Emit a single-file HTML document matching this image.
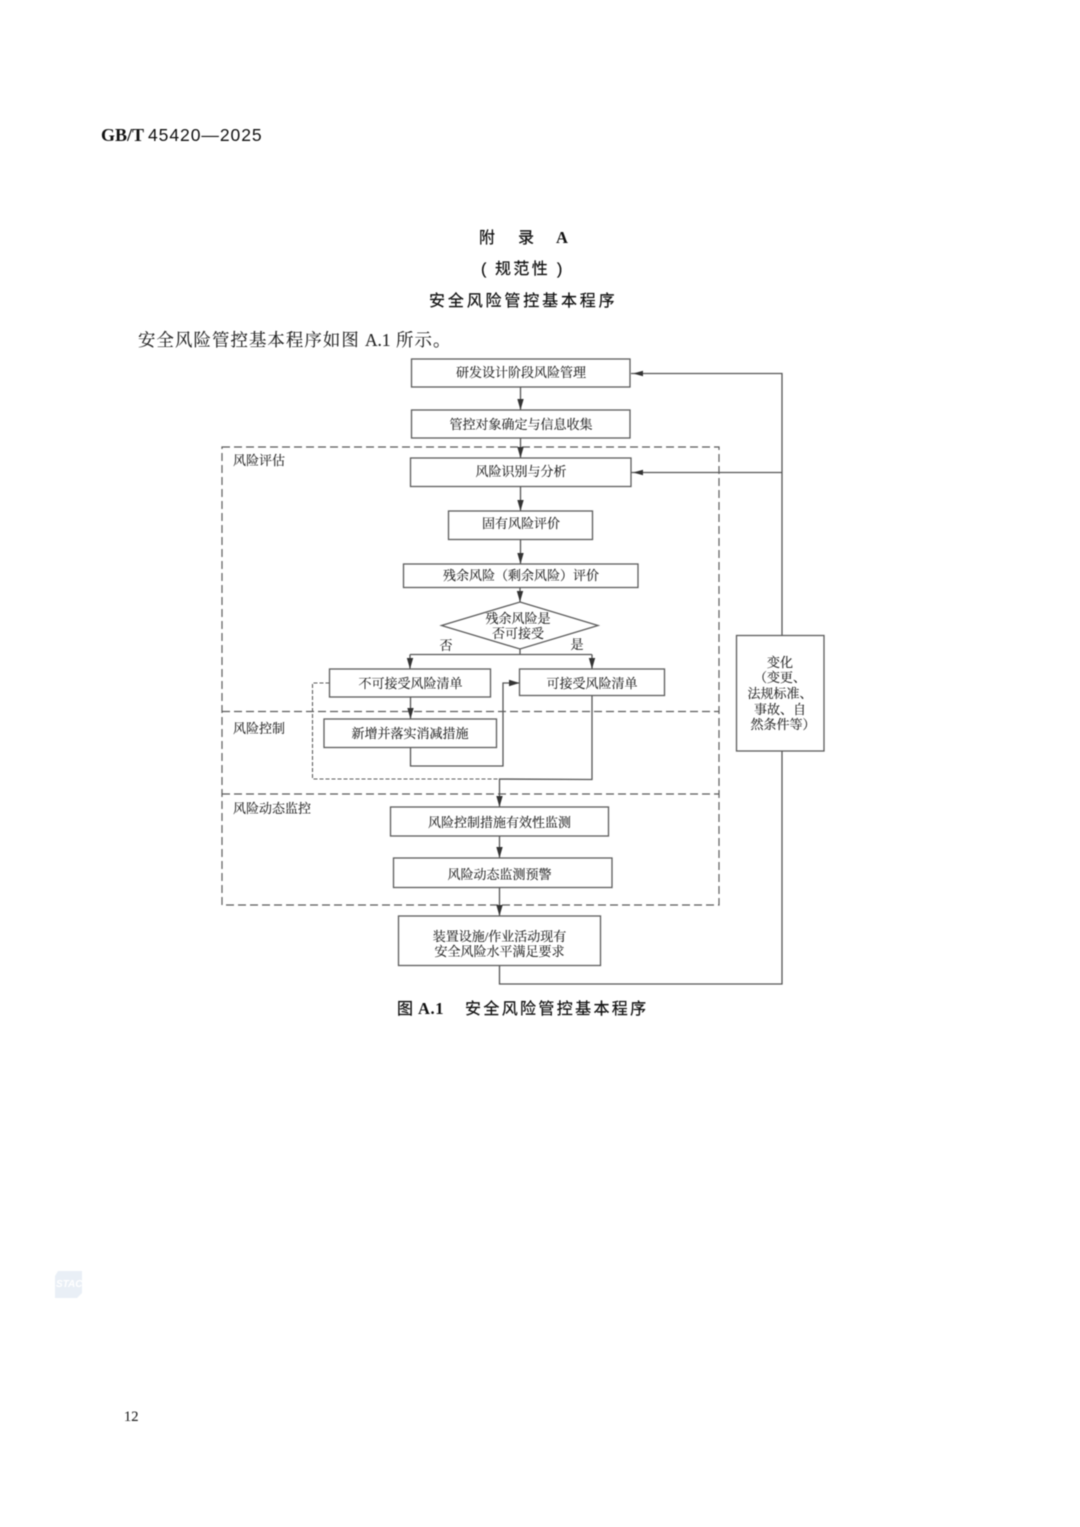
<!DOCTYPE html>
<html lang="zh">
<head>
<meta charset="utf-8">
<title>安全风险管控基本程序</title>
<style>
html,body{margin:0;padding:0;background:#fff;width:1080px;height:1527px;overflow:hidden}
svg{display:block;filter:blur(.4px)}
.s{font-family:"Liberation Serif","Noto Serif CJK SC",serif;fill:#222;stroke:#222;stroke-width:.12}
.l{font-size:13px;text-anchor:middle}
.h{font-family:"Liberation Sans","Noto Sans CJK SC",sans-serif;fill:#111}
.k{stroke:#111;stroke-width:.22}
.b{fill:#fff;stroke:#5c5c5c;stroke-width:1.3}
.c{fill:none;stroke:#555;stroke-width:1.3}
.d{fill:none;stroke:#5c5c5c;stroke-width:1.2;stroke-dasharray:8 4}
.d2{fill:none;stroke:#5c5c5c;stroke-width:1.1;stroke-dasharray:4 2}
.a{fill:#333;stroke:none}
</style>
</head>
<body>
<svg width="1080" height="1527" viewBox="0 0 1080 1527" xmlns="http://www.w3.org/2000/svg">
<text x="101" y="141" font-family="Liberation Serif,serif" font-weight="700" font-size="18" fill="#111">GB/T</text>
<text x="148" y="141" class="h" font-size="17.5" letter-spacing=".95">45420—2025</text>

<text x="479" y="243" class="h k" font-size="16">附</text>
<text x="518" y="243" class="h k" font-size="16">录</text>
<text x="556" y="243" font-family="Liberation Serif,serif" font-weight="700" font-size="16.5" fill="#111">A</text>
<text x="481" y="274" class="h k" font-size="16" letter-spacing="2.6">(</text>
<text x="495" y="274" class="h k" font-size="16" letter-spacing="2.4">规范性</text>
<text x="557" y="274" class="h k" font-size="16">)</text>
<text x="429" y="306" class="h k" font-size="16" letter-spacing="2.85">安全风险管控基本程序</text>
<text x="138" y="346" class="s" font-size="17.4" letter-spacing="1.1">安全风险管控基本程序如图</text>
<text x="365" y="346" class="s" font-size="17.4">A.1</text>
<text x="396" y="346" class="s" font-size="17.4" letter-spacing="1.1">所示。</text>

<!-- dashed regions -->
<rect x="222" y="447" width="497" height="458" class="d"/>
<path d="M222 711.5H719M222 794H719" class="d"/>

<!-- connectors -->
<path d="M520.5 387V410M520.5 438V458M520.5 486.5V511M520.5 539.5V564M520 587.5V602M520 649V654.5M410 654.5H592M410 654.5V669M592 654.5V669M410.5 697V719M410.5 747.5V766H503V683H519.5M592 695.5V779.5L499.5 779V807M499.5 836V858M499.5 887.5V916M499.5 965.5V984H782V751M782 635.5V373.5H631M782 472.5H631" class="c"/>
<path d="M329.5 683H312.5V779H499.5" class="d2"/>
<g class="a">
<path d="M517.3 399L520.5 410 523.7 399Z"/>
<path d="M517.3 447L520.5 458 523.7 447Z"/>
<path d="M517.3 500L520.5 511 523.7 500Z"/>
<path d="M517.3 553L520.5 564 523.7 553Z"/>
<path d="M516.8 591L520 602 523.2 591Z"/>
<path d="M406.8 658L410 669 413.2 658Z"/>
<path d="M588.8 658L592 669 595.2 658Z"/>
<path d="M407.3 708L410.5 719 413.7 708Z"/>
<path d="M509 679.8L519.5 683 509 686.2Z"/>
<path d="M496.3 796L499.5 807 502.7 796Z"/>
<path d="M496.3 847L499.5 858 502.7 847Z"/>
<path d="M496.3 905L499.5 916 502.7 905Z"/>
<path d="M633 373.5L643 370.8 643 376.2Z"/>
<path d="M633 472.5L643 469.8 643 475.2Z"/>
</g>

<!-- boxes -->
<rect x="411.5" y="359" width="218.5" height="28" class="b"/>
<rect x="411.5" y="410" width="218.5" height="28" class="b"/>
<rect x="410.5" y="458" width="220.5" height="28.5" class="b"/>
<rect x="448.5" y="511" width="144" height="28.5" class="b"/>
<rect x="403.5" y="564" width="234.5" height="23.5" class="b"/>
<path d="M520 602L598 625.5 520 649 441.5 625.5Z" class="b"/>
<rect x="329.5" y="669" width="161" height="28" class="b"/>
<rect x="519.5" y="669" width="145" height="26.5" class="b"/>
<rect x="324" y="719" width="172.5" height="28.5" class="b"/>
<rect x="390.5" y="807" width="218" height="29" class="b"/>
<rect x="393.5" y="858" width="218.5" height="29.5" class="b"/>
<rect x="398.5" y="916" width="202" height="49.5" class="b"/>
<rect x="736.5" y="635.5" width="87.5" height="115.5" class="b"/>

<!-- labels -->
<g class="s l">
<text x="521" y="377">研发设计阶段风险管理</text>
<text x="521" y="429">管控对象确定与信息收集</text>
<text x="521" y="476">风险识别与分析</text>
<text x="521" y="528">固有风险评价</text>
<text x="521" y="580">残余风险（剩余风险）评价</text>
<text x="518" y="623">残余风险是</text>
<text x="518" y="638">否可接受</text>
<text x="446" y="650">否</text>
<text x="577" y="649">是</text>
<text x="410.5" y="688">不可接受风险清单</text>
<text x="592" y="688">可接受风险清单</text>
<text x="410" y="738">新增并落实消减措施</text>
<text x="499.5" y="827">风险控制措施有效性监测</text>
<text x="499.5" y="879">风险动态监测预警</text>
<text x="499.5" y="941">装置设施/作业活动现有</text>
<text x="499.5" y="956">安全风险水平满足要求</text>
<text x="780" y="667">变化</text>
<text x="780" y="682">（变更、</text>
<text x="780" y="698">法规标准、</text>
<text x="780" y="714">事故、自</text>
<text x="783" y="729">然条件等）</text>
</g>
<g class="s" font-size="13">
<text x="233" y="465">风险评估</text>
<text x="233" y="733">风险控制</text>
<text x="233" y="813">风险动态监控</text>
</g>

<text x="397" y="1014" class="h k" font-size="16">图</text>
<text x="418" y="1014" font-family="Liberation Serif,serif" font-weight="700" font-size="16.5" fill="#111" letter-spacing=".6">A.1</text>
<text x="465" y="1014" class="h k" font-size="16" letter-spacing="2.35">安全风险管控基本程序</text>

<!-- watermark -->
<path d="M58 1271H82V1293L77 1298H55V1276Z" fill="#e9eff6"/>
<text x="56" y="1287" font-family="Liberation Sans,sans-serif" font-weight="700" font-style="italic" font-size="10" fill="#fff">STAC</text>

<text x="124" y="1421" class="s" font-size="14.5">12</text>
</svg>
</body>
</html>
